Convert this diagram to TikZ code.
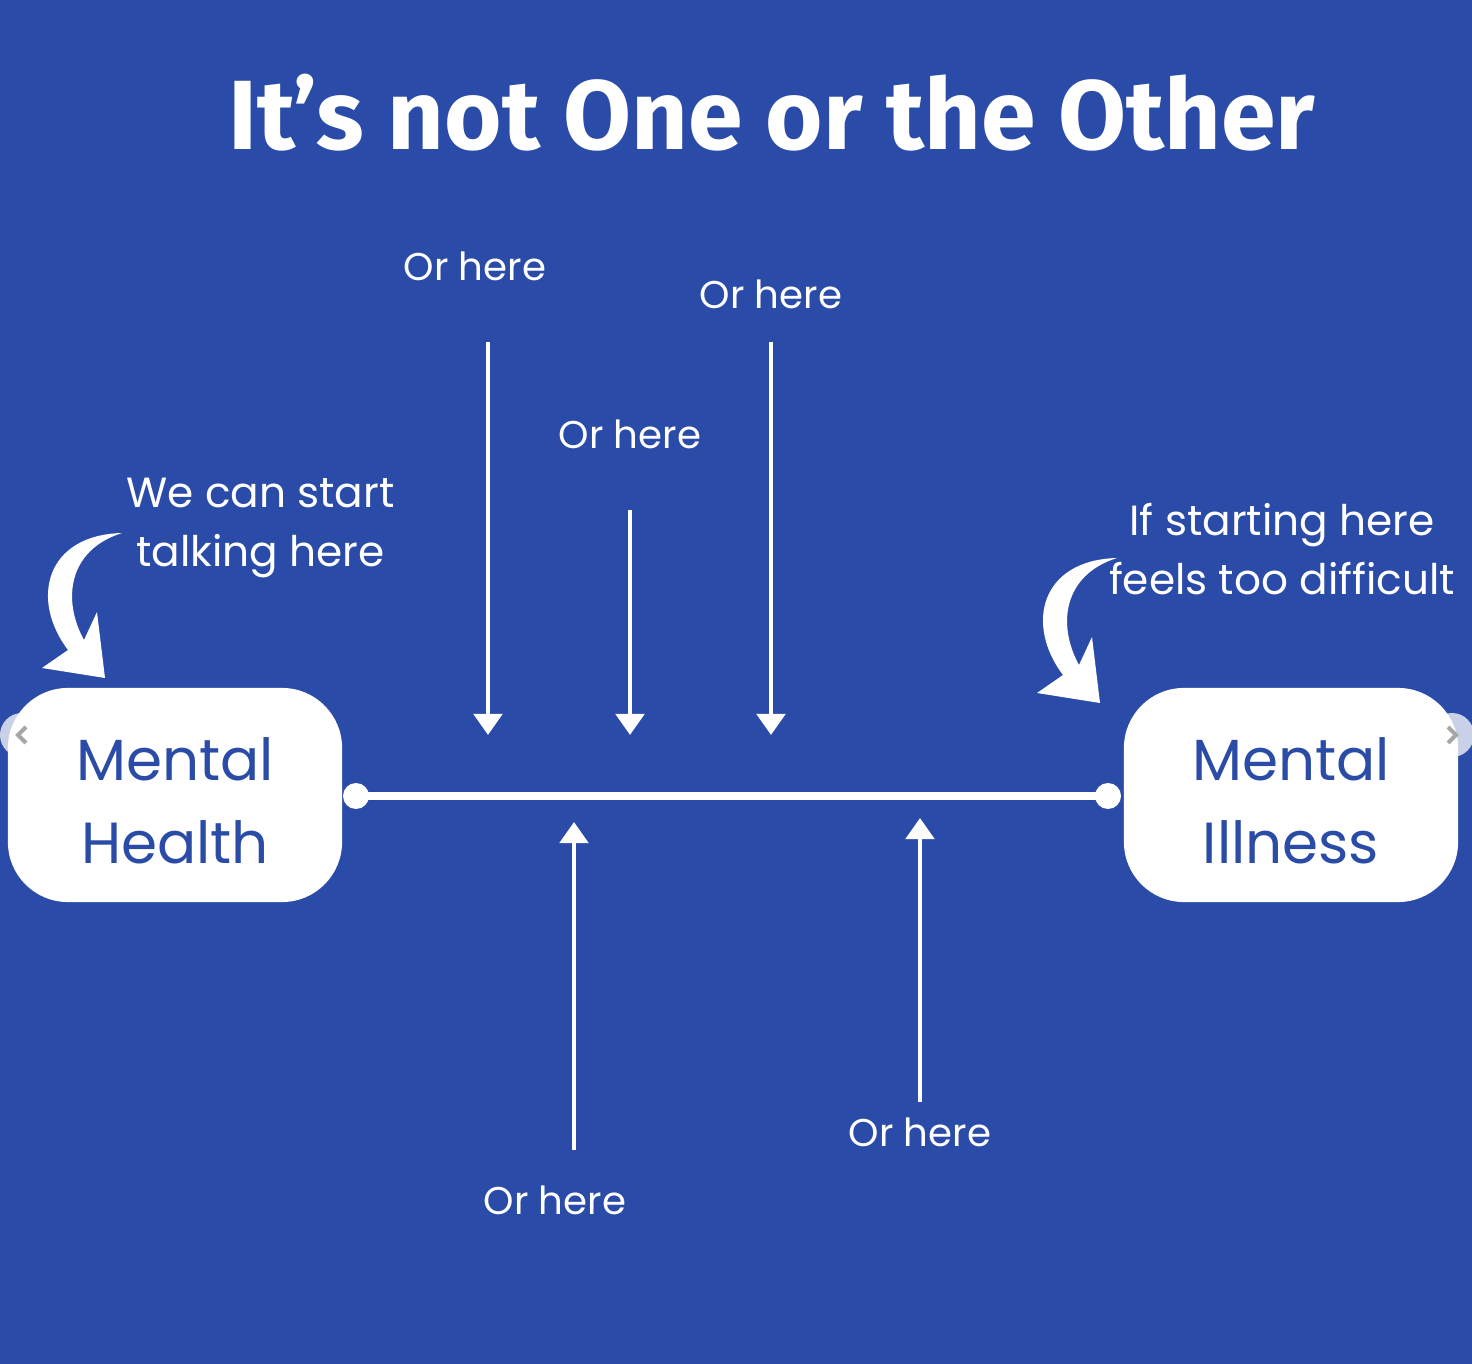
\documentclass[tikz,border=0pt]{standalone}
\usepackage{fontspec}
\usetikzlibrary{arrows.meta}
\setmainfont{Poppins}
\newfontfamily\titlefont{Fira Sans}
\definecolor{bg}{HTML}{2B4BA8}
\definecolor{boxtext}{HTML}{2A4BA6}
\begin{document}
\begin{tikzpicture}[x=0.01cm,y=-0.01cm,
  lbl/.style={text=white,font=\fontsize{11}{17}\selectfont,align=center},
  note/.style={text=white,font=\fontsize{12}{17}\selectfont},
  bigbox/.style={fill=white,rounded corners=0.6cm,minimum width=3.34cm,minimum height=2.14cm,text=boxtext,font=\fontsize{16.5}{23.5}\selectfont,align=center},
  arr/.style={draw=white,line width=1.4pt,-{Triangle[length=6pt,width=8pt]}}]
\fill[bg] (0,0) rectangle (1472,1364);
\useasboundingbox (0,0) rectangle (1472,1364);
\node[text=white,font=\titlefont\bfseries\fontsize{28}{34}\selectfont] (title) at (772,113) {It’s not One or the Other};
\node[bigbox] (mh) at (175,795) {};
\node[boxtext,font=\fontsize{16.5}{23.5}\selectfont,align=center,text=boxtext] (mht) at (175,801) {Mental\\Health};
\node[bigbox] (mi) at (1291,795) {};
\node[font=\fontsize{16.5}{23.5}\selectfont,align=center,text=boxtext] (mit) at (1291,801) {Mental\\Illness};
\coordinate (L) at (356,796);
\coordinate (R) at (1108,796);
\draw[white,line width=2.5pt] (L) -- (R);
\fill[white] (L) circle (13) (R) circle (13);
\node[lbl] (o1) at (475,266) {Or here};
\node[lbl] (o2) at (771,294) {Or here};
\node[lbl] (o3) at (630,434) {Or here};
\node[lbl] (o4) at (555,1200) {Or here};
\node[lbl] (o5) at (920,1132) {Or here};
\coordinate (a1s) at (488,342); \coordinate (a1e) at (488,735);
\coordinate (a2s) at (771,342); \coordinate (a2e) at (771,735);
\coordinate (a3s) at (630,510); \coordinate (a3e) at (630,735);
\coordinate (a4s) at (574,1150); \coordinate (a4e) at (574,822);
\coordinate (a5s) at (920,1102); \coordinate (a5e) at (920,818);
\draw[arr] (a1s) -- (a1e);
\draw[arr] (a2s) -- (a2e);
\draw[arr] (a3s) -- (a3e);
\draw[arr] (a4s) -- (a4e);
\draw[arr] (a5s) -- (a5e);
\node[note,align=left,anchor=west] (t1) at (114,528) {We can start\\\hspace*{0.1cm}talking here};
\node[note,align=center] (t2) at (1282,549) {If starting here\\feels too difficult};
\foreach \dx/\dy in {0/0,995/25}{
\begin{scope}[shift={(\dx,\dy)}]
\fill[white] (122,533) .. controls (45,535) and (30,600) .. (68,650)
  -- (42,668) -- (105,678) -- (97,612) -- (84,640)
  .. controls (62,600) and (68,550) .. (122,533) -- cycle;
\end{scope}}
\fill[white,opacity=0.75] (22,735) circle (22);
\draw[gray!70,line width=1.2pt] (26,727) -- (18,735) -- (26,743);
\fill[white,opacity=0.75] (1452,735) circle (22);
\draw[gray!70,line width=1.2pt] (1448,727) -- (1456,735) -- (1448,743);
\end{tikzpicture}
\end{document}
